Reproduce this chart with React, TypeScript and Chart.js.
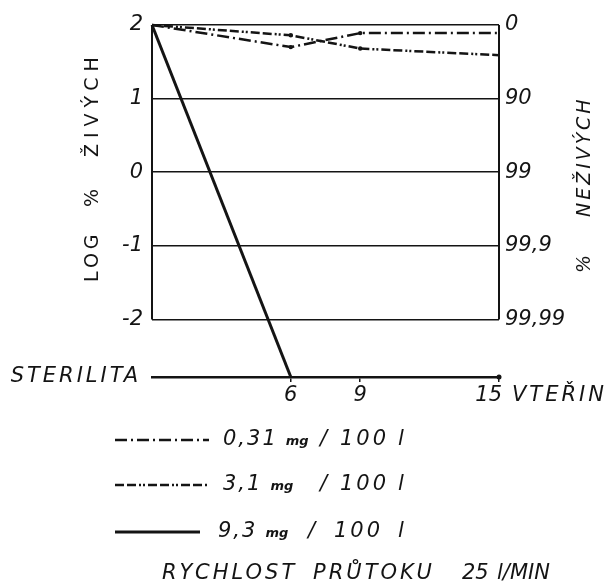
import React, { useEffect, useRef } from 'react';
import { Chart, registerables } from 'chart.js';
Chart.register(...registerables);

const STERILITA = -2.78;
const times = [0, 6, 9, 15];
const dose031 = [2, 1.7, 1.89, 1.89];
const dose31 = [2, 1.86, 1.68, 1.59];
const times93 = [0, 6];
const dose93 = [2, STERILITA];
const leftTickValues = [2, 1, 0, -1, -2, STERILITA];
const leftTickLabels = ['2', '1', '0', '-1', '-2', ''];
const rightTickValues = [2, 1, 0, -1, -2];
const rightTickLabels = ['0', '90', '99', '99,9', '99,99'];
const xTickValues = [6, 9, 15];
const xTickLabels = ['6', '9', '15'];
const legendDoses = ['0,31', '3,1', '9,3'];

const FAM = '"DejaVu Sans", sans-serif';
const INK = '#141414';

const decorPlugin = {
  id: 'decor',
  afterDraw(chart: any) {
    const ctx = chart.ctx;
    const xs = chart.scales.x;
    const ys = chart.scales.y;
    const area = chart.chartArea;
    ctx.save();
    ctx.strokeStyle = INK;
    ctx.fillStyle = INK;
    // vertical borders from 2 to -2
    ctx.lineWidth = 2;
    const yTop = ys.getPixelForValue(2);
    const yBot = ys.getPixelForValue(-2);
    ctx.beginPath();
    ctx.moveTo(area.left, yTop);
    ctx.lineTo(area.left, yBot);
    ctx.moveTo(area.right, yTop);
    ctx.lineTo(area.right, yBot);
    ctx.stroke();

    // STERILITA label and end dot
    const ySter = ys.getPixelForValue(STERILITA);
    ctx.beginPath();
    ctx.arc(xs.getPixelForValue(15), ySter, 2.5, 0, Math.PI * 2);
    ctx.fill();
    ctx.font = `italic 21px ${FAM}`;
    (ctx as any).letterSpacing = '3px';
    ctx.textAlign = 'right';
    ctx.textBaseline = 'middle';
    ctx.fillText('STERILITA', 141, ySter);

    // x labels
    ctx.font = `italic 21px ${FAM}`;
    (ctx as any).letterSpacing = '0px';
    ctx.textBaseline = 'top';
    xTickValues.forEach((v, i) => {
      const px = xs.getPixelForValue(v);
      if (i === xTickValues.length - 1) {
        ctx.textAlign = 'right';
        ctx.fillText(xTickLabels[i], px + 3, ySter + 8);
      } else {
        ctx.textAlign = 'center';
        ctx.fillText(xTickLabels[i], px, ySter + 8);
      }
    });
    ctx.textAlign = 'left';
    (ctx as any).letterSpacing = '3px';
    ctx.fillText('VTEŘIN', area.right + 13, ySter + 8);

    // left title
    ctx.save();
    ctx.translate(93, 282);
    ctx.rotate(-Math.PI / 2);
    ctx.textAlign = 'left';
    ctx.textBaseline = 'middle';
    ctx.font = `19px ${FAM}`;
    (ctx as any).letterSpacing = '4px';
    ctx.fillText('LOG', 0, 0);
    ctx.fillText('%', 75, 0);
    (ctx as any).letterSpacing = '6px';
    ctx.fillText('ŽIVÝCH', 125, 0);
    ctx.restore();

    // right title
    ctx.save();
    ctx.translate(585, 273);
    ctx.rotate(-Math.PI / 2);
    ctx.textAlign = 'left';
    ctx.textBaseline = 'middle';
    ctx.font = `italic 19px ${FAM}`;
    (ctx as any).letterSpacing = '3px';
    ctx.fillText('%', 0, 0);
    ctx.fillText('NEŽIVÝCH', 56, 0);
    ctx.restore();

    // legend
    const rowsY = [440, 485, 532];
    const ds = chart.data.datasets;
    legendDoses.forEach((dose, i) => {
      const y = rowsY[i];
      const d = ds[i];
      ctx.save();
      ctx.lineWidth = d.borderWidth;
      ctx.setLineDash(d.borderDash || []);
      ctx.beginPath();
      ctx.moveTo(115, y);
      ctx.lineTo(i === 2 ? 200 : 209, y);
      ctx.stroke();
      ctx.restore();
      ctx.textBaseline = 'middle';
      ctx.textAlign = 'left';
      ctx.font = `italic 21px ${FAM}`;
      (ctx as any).letterSpacing = '2px';
      const dx = i === 2 ? 218 : 223;
      ctx.fillText(dose, dx, y);
      const w = ctx.measureText(dose).width;
      ctx.font = `italic bold 13px ${FAM}`;
      (ctx as any).letterSpacing = '0px';
      ctx.fillText('mg', dx + w + 8, y + 2);
      ctx.font = `italic 21px ${FAM}`;
      (ctx as any).letterSpacing = '3px';
      ctx.fillText('/', i === 2 ? 308 : 320, y);
      ctx.fillText('100', i === 2 ? 334 : 340, y);
      ctx.fillText('l', 398, y);
    });

    // bottom caption
    ctx.font = `italic 21px ${FAM}`;
    ctx.textBaseline = 'alphabetic';
    ctx.textAlign = 'left';
    (ctx as any).letterSpacing = '3px';
    ctx.fillText('RYCHLOST', 162, 579);
    ctx.fillText('PRŮTOKU', 313, 579);
    (ctx as any).letterSpacing = '0px';
    ctx.fillText('25', 462, 579);
    ctx.fillText('l/MIN', 497, 579);
    ctx.restore();
  },
};

export default function App() {
  const ref = useRef<HTMLCanvasElement | null>(null);
  useEffect(() => {
    if (!ref.current) return;
    const chart = new Chart(ref.current, {
      type: 'line',
      data: {
        datasets: [
          {
            label: '0,31 mg / 100 l',
            data: times.map((t, i) => ({ x: t, y: dose031[i] })),
            borderColor: INK,
            backgroundColor: INK,
            borderWidth: 2.5,
            borderDash: [12, 4, 2, 4],
            pointRadius: [0, 2.2, 2.2, 0],
            pointBorderWidth: 0,
            tension: 0,
            clip: false,
          },
          {
            label: '3,1 mg / 100 l',
            data: times.map((t, i) => ({ x: t, y: dose31[i] })),
            borderColor: INK,
            backgroundColor: INK,
            borderWidth: 2.5,
            borderDash: [9, 3, 9, 3, 2, 2, 2, 3],
            pointRadius: [0, 2.2, 2.2, 0],
            pointBorderWidth: 0,
            tension: 0,
            clip: false,
          },
          {
            label: '9,3 mg / 100 l',
            data: times93.map((t, i) => ({ x: t, y: dose93[i] })),
            borderColor: INK,
            backgroundColor: INK,
            borderWidth: 3,
            pointRadius: 0,
            tension: 0,
            clip: false,
          },
        ],
      } as any,
      options: {
        animation: false,
        responsive: false,
        devicePixelRatio: 1,
        layout: { padding: { top: 25, left: 0, right: 0, bottom: 0 } },
        plugins: { legend: { display: false }, tooltip: { enabled: false } },
        scales: {
          x: {
            type: 'linear',
            min: 0,
            max: 15,
            afterFit: (s: any) => { s.height = 585 - 377; },
            afterBuildTicks: (s: any) => { s.ticks = xTickValues.map((v) => ({ value: v })); },
            ticks: { callback: () => '', font: { size: 1 } },
            grid: { drawOnChartArea: false, drawTicks: true, tickLength: 5, color: INK, lineWidth: 1.5 },
            border: { display: true, color: INK, width: 2.5 },
          },
          y: {
            type: 'linear',
            position: 'left',
            min: STERILITA,
            max: 2,
            afterFit: (s: any) => { s.width = 152; },
            afterBuildTicks: (s: any) => { s.ticks = leftTickValues.map((v) => ({ value: v })); },
            ticks: {
              padding: 9,
              color: INK,
              font: { family: FAM, size: 21, style: 'italic' },
              callback: (_v: any, i: number) => leftTickLabels[i],
            },
            grid: {
              drawTicks: false,
              lineWidth: 1.6,
              color: (c: any) => (c.tick && c.tick.value < -2.5 ? 'rgba(0,0,0,0)' : INK),
            },
            border: { display: false },
          },
          y2: {
            type: 'linear',
            position: 'right',
            min: STERILITA,
            max: 2,
            afterFit: (s: any) => { s.width = 111; },
            afterBuildTicks: (s: any) => { s.ticks = rightTickValues.map((v) => ({ value: v })); },
            ticks: {
              padding: 6,
              color: INK,
              font: { family: FAM, size: 21, style: 'italic' },
              callback: (_v: any, i: number) => rightTickLabels[i],
            },
            grid: { drawOnChartArea: false, drawTicks: false },
            border: { display: false },
          },
        },
      } as any,
      plugins: [decorPlugin],
    });
    return () => chart.destroy();
  }, []);
  return (
    <div style={{ position: 'absolute', left: 0, top: 0, width: 610, height: 585, background: '#fff' }}>
      <canvas ref={ref} width={610} height={585} style={{ display: 'block' }} />
    </div>
  );
}
